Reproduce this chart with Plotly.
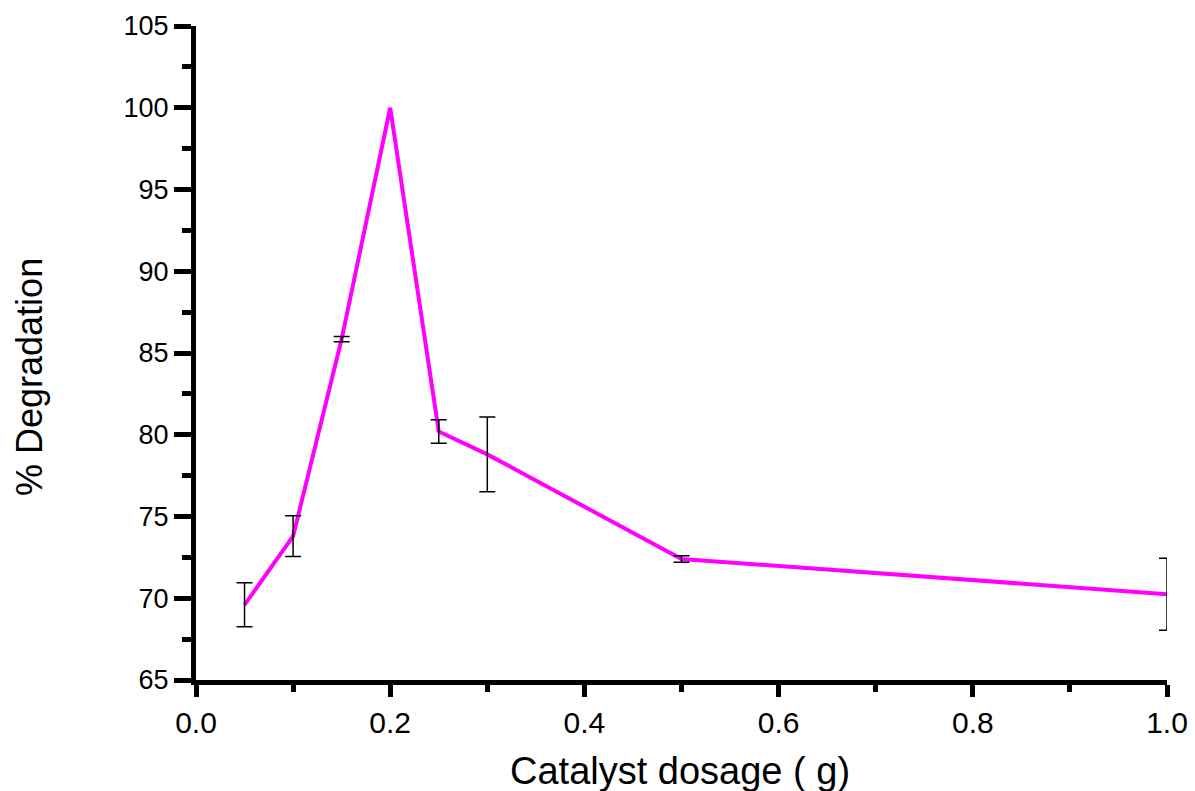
import plotly.graph_objects as go

dosage = [0.05, 0.1, 0.15, 0.2, 0.25, 0.3, 0.5, 1.0]
degradation = [69.6, 73.8, 85.85, 100.0, 80.2, 78.8, 72.4, 70.25]
errors = [1.35, 1.25, 0.16, 0.0, 0.72, 2.28, 0.2, 2.2]

x_ticks = [0.0, 0.2, 0.4, 0.6, 0.8, 1.0]
y_ticks = [65, 70, 75, 80, 85, 90, 95, 100, 105]

FONT = "Liberation Sans, Arial, sans-serif"

fig = go.Figure()
fig.add_trace(go.Scatter(
    x=dosage, y=degradation, mode="lines",
    line=dict(color="#FF00FF", width=4),
    showlegend=False,
))
# error bars only where an error was measured
idx = [i for i, e in enumerate(errors) if e > 0]
fig.add_trace(go.Scatter(
    x=[dosage[i] for i in idx], y=[degradation[i] for i in idx], mode="markers",
    marker=dict(size=1, opacity=0),
    error_y=dict(type="data", array=[errors[i] for i in idx], visible=True,
                 color="black", thickness=1.5, width=8),
    showlegend=False, hoverinfo="skip",
))

fig.update_layout(
    width=1195, height=791,
    margin=dict(l=196, r=28, t=26, b=111),
    paper_bgcolor="white", plot_bgcolor="white",
    font=dict(family=FONT, color="black"),
    annotations=[
        dict(text="Catalyst dosage ( g)", xref="paper", yref="paper",
             x=0.4985, y=-0.139, xanchor="center", yanchor="middle",
             showarrow=False, font=dict(size=38, family=FONT, color="black")),
        dict(text="% Degradation", xref="paper", yref="paper",
             x=-0.172, y=0.4633, xanchor="center", yanchor="middle", textangle=-90,
             showarrow=False, font=dict(size=36, family=FONT, color="black")),
    ],
)
fig.update_xaxes(
    range=[0, 1.0], tickvals=x_ticks, ticktext=[f"{v:.1f}" for v in x_ticks],
    automargin=False,
    showgrid=False, zeroline=False,
    showline=True, linecolor="black", linewidth=5,
    ticks="outside", ticklen=12, tickwidth=5, tickcolor="black",
    tickfont=dict(size=30, family=FONT, color="black"),
    minor=dict(dtick=0.1, tick0=0, ticks="outside", ticklen=7, tickwidth=5, tickcolor="black", showgrid=False),
)
fig.update_yaxes(
    range=[65, 105], tickvals=y_ticks, ticktext=[str(v) for v in y_ticks],
    automargin=False,
    showgrid=False, zeroline=False,
    showline=True, linecolor="black", linewidth=5,
    ticks="outside", ticklen=17, tickwidth=5, tickcolor="black",
    tickfont=dict(size=27, family=FONT, color="black"),
    minor=dict(dtick=2.5, tick0=65, ticks="outside", ticklen=9, tickwidth=5, tickcolor="black", showgrid=False),
)

fig.write_html("out.html")
